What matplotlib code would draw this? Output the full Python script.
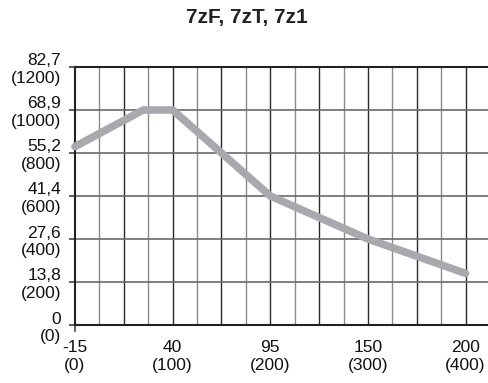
import matplotlib
matplotlib.use("Agg")
import matplotlib.pyplot as plt

# Data (x in °F, y in psi)
temp_f = [0, 70, 100, 200, 300, 400]
pressure_psi = [830, 1000, 1000, 600, 400, 240]

x_ticks = [0, 100, 200, 300, 400]
x_labels = ["-15\n(0)", "40\n(100)", "95\n(200)", "150\n(300)", "200\n(400)"]
y_ticks = [0, 200, 400, 600, 800, 1000, 1200]
y_labels = ["0\n(0)", "13,8\n(200)", "27,6\n(400)", "41,4\n(600)",
            "55,2\n(800)", "68,9\n(1000)", "82,7\n(1200)"]
title = "7zF, 7zT, 7z1"

plt.rcParams['font.family'] = ['Liberation Sans', 'DejaVu Sans']

W, H = 489, 383
fig = plt.figure(figsize=(W / 100, H / 100), dpi=100)
left, right, top, bottom = 75, 489, 67, 325
ax = fig.add_axes([left / W, (H - bottom) / H, (right - left) / W, (bottom - top) / H])

ax.set_xlim(0, 424)
ax.set_ylim(0, 1200)

# grid: vertical every 25 (alternating dark/grey), horizontal every 200
for i, xv in enumerate(range(25, 425, 25)):
    col = '#2a2a2a' if i % 2 == 1 else '#8a8a8a'
    ax.axvline(xv, color=col, lw=1.0, zorder=1)
for yv in y_ticks[1:-1]:
    ax.axhline(yv, color='#6a6a6a', lw=1.2, zorder=1)

ax.plot(temp_f, pressure_psi, color='#a8a9ad', lw=5.5, solid_capstyle='round',
        solid_joinstyle='miter', zorder=3, clip_on=False)

for s in ['left', 'bottom', 'top']:
    ax.spines[s].set_color('#222222')
    ax.spines[s].set_linewidth(1.5)
ax.spines['right'].set_visible(False)

ax.set_yticks(y_ticks)
ax.set_yticklabels(y_labels, fontsize=12.5)
ax.tick_params(axis='y', length=4.5, width=1.2, color='#444444', pad=5.5)

ax.set_xticks(x_ticks)
ax.set_xticklabels(x_labels, fontsize=12.5)
ax.tick_params(axis='x', length=0, pad=11)
for t in ax.get_yticklabels() + ax.get_xticklabels():
    t.set_linespacing(1.2)
    t.set_color('#111111')
# small tick at the origin below the axis
ax.plot([0, 0], [0, -0.025], transform=ax.get_xaxis_transform(), color='#444444',
        lw=1.2, clip_on=False)

fig.text(247 / W, 1 - 18 / H, title, ha='center', va='center', fontsize=15,
         fontweight='bold', color='#222222')

fig.savefig("out.png", dpi=100)
